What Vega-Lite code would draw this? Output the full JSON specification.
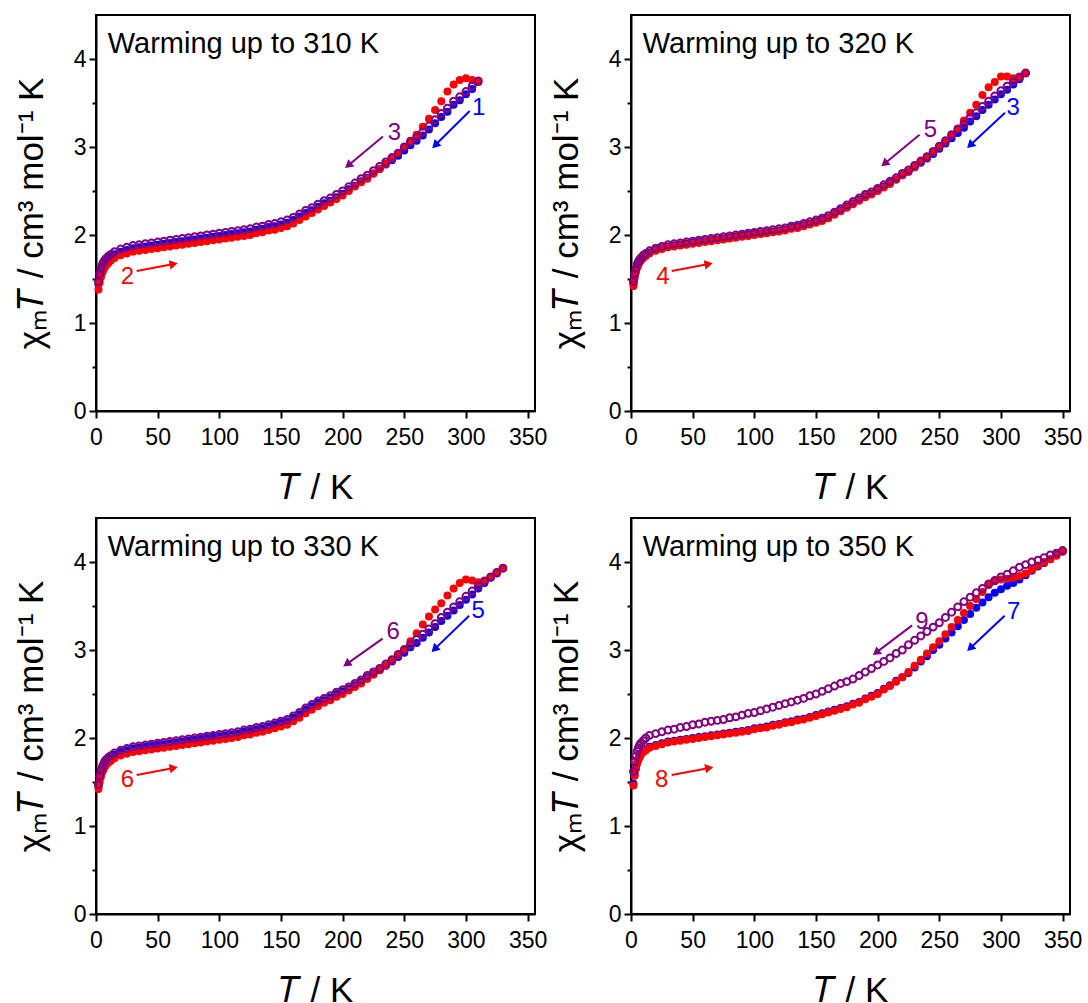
{
"$schema": "https://vega.github.io/schema/vega-lite/v6.json",
"padding": {"left": 13, "top": 14, "right": 5, "bottom": 5},
"background": "white",
"datasets": {"d": [
{"P":"310","T":2,"b":1.44,"r":1.38,"p":1.47},{"P":"310","T":3,"b":1.53,"r":1.46,"p":1.56},{"P":"310","T":4,"b":1.59,"r":1.52,"p":1.62},{"P":"310","T":5,"b":1.63,"r":1.57,"p":1.66},{"P":"310","T":6,"b":1.66,"r":1.60,"p":1.69},{"P":"310","T":7,"b":1.68,"r":1.63,"p":1.71},{"P":"310","T":8,"b":1.70,"r":1.65,"p":1.73},{"P":"310","T":10,"b":1.73,"r":1.68,"p":1.76},{"P":"310","T":12,"b":1.75,"r":1.71,"p":1.78},{"P":"310","T":15,"b":1.78,"r":1.74,"p":1.81},{"P":"310","T":20,"b":1.81,"r":1.77,"p":1.84},{"P":"310","T":25,"b":1.83,"r":1.79,"p":1.86},{"P":"310","T":30,"b":1.85,"r":1.81,"p":1.88},{"P":"310","T":35,"b":1.86,"r":1.82,"p":1.89},{"P":"310","T":40,"b":1.87,"r":1.83,"p":1.90},{"P":"310","T":45,"b":1.88,"r":1.84,"p":1.91},{"P":"310","T":50,"b":1.89,"r":1.85,"p":1.92},{"P":"310","T":55,"b":1.90,"r":1.86,"p":1.93},{"P":"310","T":60,"b":1.91,"r":1.87,"p":1.94},{"P":"310","T":65,"b":1.92,"r":1.88,"p":1.95},{"P":"310","T":70,"b":1.93,"r":1.89,"p":1.96},{"P":"310","T":75,"b":1.94,"r":1.90,"p":1.97},{"P":"310","T":80,"b":1.95,"r":1.91,"p":1.98},{"P":"310","T":85,"b":1.96,"r":1.92,"p":1.99},{"P":"310","T":90,"b":1.97,"r":1.93,"p":2.00},{"P":"310","T":95,"b":1.98,"r":1.94,"p":2.01},{"P":"310","T":100,"b":1.99,"r":1.95,"p":2.02},{"P":"310","T":105,"b":2.00,"r":1.96,"p":2.03},{"P":"310","T":110,"b":2.01,"r":1.97,"p":2.04},{"P":"310","T":115,"b":2.02,"r":1.98,"p":2.05},{"P":"310","T":120,"b":2.03,"r":1.99,"p":2.06},{"P":"310","T":125,"b":2.04,"r":2.00,"p":2.07},{"P":"310","T":130,"b":2.06,"r":2.02,"p":2.09},{"P":"310","T":135,"b":2.07,"r":2.03,"p":2.10},{"P":"310","T":140,"b":2.09,"r":2.05,"p":2.12},{"P":"310","T":145,"b":2.10,"r":2.06,"p":2.13},{"P":"310","T":150,"b":2.12,"r":2.08,"p":2.15},{"P":"310","T":155,"b":2.14,"r":2.10,"p":2.17},{"P":"310","T":160,"b":2.17,"r":2.13,"p":2.20},{"P":"310","T":165,"b":2.21,"r":2.17,"p":2.24},{"P":"310","T":170,"b":2.25,"r":2.21,"p":2.28},{"P":"310","T":175,"b":2.28,"r":2.25,"p":2.31},{"P":"310","T":180,"b":2.32,"r":2.29,"p":2.35},{"P":"310","T":185,"b":2.36,"r":2.33,"p":2.39},{"P":"310","T":190,"b":2.39,"r":2.37,"p":2.42},{"P":"310","T":195,"b":2.43,"r":2.41,"p":2.46},{"P":"310","T":200,"b":2.47,"r":2.45,"p":2.50},{"P":"310","T":205,"b":2.52,"r":2.50,"p":2.55},{"P":"310","T":210,"b":2.56,"r":2.55,"p":2.59},{"P":"310","T":215,"b":2.61,"r":2.60,"p":2.64},{"P":"310","T":220,"b":2.65,"r":2.64,"p":2.68},{"P":"310","T":225,"b":2.70,"r":2.70,"p":2.73},{"P":"310","T":230,"b":2.75,"r":2.75,"p":2.78},{"P":"310","T":235,"b":2.80,"r":2.81,"p":2.83},{"P":"310","T":240,"b":2.85,"r":2.87,"p":2.88},{"P":"310","T":245,"b":2.90,"r":2.93,"p":2.93},{"P":"310","T":250,"b":2.96,"r":3.00,"p":3.00},{"P":"310","T":255,"b":3.02,"r":3.07,"p":3.06},{"P":"310","T":260,"b":3.07,"r":3.14,"p":3.11},{"P":"310","T":265,"b":3.13,"r":3.23,"p":3.17},{"P":"310","T":270,"b":3.20,"r":3.32,"p":3.24},{"P":"310","T":275,"b":3.27,"r":3.42,"p":3.31},{"P":"310","T":280,"b":3.34,"r":3.52,"p":3.38},{"P":"310","T":285,"b":3.40,"r":3.63,"p":3.44},{"P":"310","T":290,"b":3.48,"r":3.71,"p":3.52},{"P":"310","T":295,"b":3.53,"r":3.76,"p":3.57},{"P":"310","T":300,"b":3.60,"r":3.78,"p":3.63},{"P":"310","T":305,"b":3.66,"r":3.76,"p":3.69},{"P":"310","T":310,"b":3.74,"r":3.74,"p":3.75},
{"P":"320","T":2,"b":1.45,"r":1.42,"p":1.47},{"P":"320","T":3,"b":1.54,"r":1.51,"p":1.56},{"P":"320","T":4,"b":1.60,"r":1.58,"p":1.62},{"P":"320","T":5,"b":1.65,"r":1.63,"p":1.67},{"P":"320","T":6,"b":1.68,"r":1.66,"p":1.70},{"P":"320","T":7,"b":1.70,"r":1.69,"p":1.72},{"P":"320","T":8,"b":1.72,"r":1.71,"p":1.74},{"P":"320","T":10,"b":1.75,"r":1.74,"p":1.77},{"P":"320","T":12,"b":1.77,"r":1.76,"p":1.79},{"P":"320","T":15,"b":1.80,"r":1.79,"p":1.82},{"P":"320","T":20,"b":1.83,"r":1.82,"p":1.85},{"P":"320","T":25,"b":1.85,"r":1.84,"p":1.87},{"P":"320","T":30,"b":1.87,"r":1.86,"p":1.89},{"P":"320","T":35,"b":1.88,"r":1.87,"p":1.90},{"P":"320","T":40,"b":1.89,"r":1.88,"p":1.91},{"P":"320","T":45,"b":1.90,"r":1.89,"p":1.92},{"P":"320","T":50,"b":1.91,"r":1.90,"p":1.93},{"P":"320","T":55,"b":1.92,"r":1.91,"p":1.94},{"P":"320","T":60,"b":1.93,"r":1.92,"p":1.95},{"P":"320","T":65,"b":1.94,"r":1.93,"p":1.96},{"P":"320","T":70,"b":1.95,"r":1.94,"p":1.97},{"P":"320","T":75,"b":1.96,"r":1.95,"p":1.98},{"P":"320","T":80,"b":1.97,"r":1.96,"p":1.99},{"P":"320","T":85,"b":1.98,"r":1.97,"p":2.00},{"P":"320","T":90,"b":1.99,"r":1.98,"p":2.01},{"P":"320","T":95,"b":2.00,"r":1.99,"p":2.02},{"P":"320","T":100,"b":2.01,"r":2.00,"p":2.03},{"P":"320","T":105,"b":2.02,"r":2.01,"p":2.04},{"P":"320","T":110,"b":2.03,"r":2.02,"p":2.05},{"P":"320","T":115,"b":2.04,"r":2.03,"p":2.06},{"P":"320","T":120,"b":2.05,"r":2.04,"p":2.07},{"P":"320","T":125,"b":2.06,"r":2.05,"p":2.08},{"P":"320","T":130,"b":2.08,"r":2.07,"p":2.10},{"P":"320","T":135,"b":2.09,"r":2.08,"p":2.11},{"P":"320","T":140,"b":2.11,"r":2.10,"p":2.13},{"P":"320","T":145,"b":2.13,"r":2.12,"p":2.15},{"P":"320","T":150,"b":2.15,"r":2.14,"p":2.17},{"P":"320","T":155,"b":2.17,"r":2.16,"p":2.19},{"P":"320","T":160,"b":2.20,"r":2.19,"p":2.22},{"P":"320","T":165,"b":2.24,"r":2.23,"p":2.26},{"P":"320","T":170,"b":2.28,"r":2.27,"p":2.30},{"P":"320","T":175,"b":2.32,"r":2.31,"p":2.34},{"P":"320","T":180,"b":2.36,"r":2.35,"p":2.38},{"P":"320","T":185,"b":2.40,"r":2.39,"p":2.42},{"P":"320","T":190,"b":2.44,"r":2.43,"p":2.46},{"P":"320","T":195,"b":2.47,"r":2.46,"p":2.49},{"P":"320","T":200,"b":2.51,"r":2.50,"p":2.53},{"P":"320","T":205,"b":2.55,"r":2.54,"p":2.57},{"P":"320","T":210,"b":2.59,"r":2.58,"p":2.61},{"P":"320","T":215,"b":2.63,"r":2.63,"p":2.65},{"P":"320","T":220,"b":2.68,"r":2.68,"p":2.70},{"P":"320","T":225,"b":2.72,"r":2.72,"p":2.74},{"P":"320","T":230,"b":2.77,"r":2.77,"p":2.79},{"P":"320","T":235,"b":2.82,"r":2.83,"p":2.84},{"P":"320","T":240,"b":2.87,"r":2.88,"p":2.89},{"P":"320","T":245,"b":2.92,"r":2.94,"p":2.95},{"P":"320","T":250,"b":2.98,"r":3.00,"p":3.01},{"P":"320","T":255,"b":3.04,"r":3.06,"p":3.07},{"P":"320","T":260,"b":3.10,"r":3.13,"p":3.14},{"P":"320","T":265,"b":3.16,"r":3.21,"p":3.20},{"P":"320","T":270,"b":3.22,"r":3.30,"p":3.26},{"P":"320","T":275,"b":3.29,"r":3.39,"p":3.33},{"P":"320","T":280,"b":3.35,"r":3.48,"p":3.39},{"P":"320","T":285,"b":3.42,"r":3.59,"p":3.46},{"P":"320","T":290,"b":3.48,"r":3.68,"p":3.52},{"P":"320","T":295,"b":3.54,"r":3.74,"p":3.58},{"P":"320","T":300,"b":3.60,"r":3.80,"p":3.64},{"P":"320","T":305,"b":3.65,"r":3.80,"p":3.69},{"P":"320","T":310,"b":3.71,"r":3.78,"p":3.74},{"P":"320","T":315,"b":3.77,"r":3.80,"p":3.79},{"P":"320","T":320,"b":3.84,"r":3.84,"p":3.84},
{"P":"330","T":2,"b":1.45,"r":1.42,"p":1.47},{"P":"330","T":3,"b":1.54,"r":1.50,"p":1.57},{"P":"330","T":4,"b":1.60,"r":1.56,"p":1.63},{"P":"330","T":5,"b":1.65,"r":1.61,"p":1.67},{"P":"330","T":6,"b":1.68,"r":1.64,"p":1.70},{"P":"330","T":7,"b":1.71,"r":1.67,"p":1.73},{"P":"330","T":8,"b":1.73,"r":1.69,"p":1.75},{"P":"330","T":10,"b":1.76,"r":1.72,"p":1.78},{"P":"330","T":12,"b":1.78,"r":1.74,"p":1.80},{"P":"330","T":15,"b":1.81,"r":1.77,"p":1.83},{"P":"330","T":20,"b":1.84,"r":1.80,"p":1.86},{"P":"330","T":25,"b":1.86,"r":1.82,"p":1.88},{"P":"330","T":30,"b":1.88,"r":1.84,"p":1.90},{"P":"330","T":35,"b":1.89,"r":1.85,"p":1.91},{"P":"330","T":40,"b":1.90,"r":1.86,"p":1.92},{"P":"330","T":45,"b":1.91,"r":1.87,"p":1.93},{"P":"330","T":50,"b":1.92,"r":1.88,"p":1.94},{"P":"330","T":55,"b":1.93,"r":1.89,"p":1.95},{"P":"330","T":60,"b":1.94,"r":1.90,"p":1.96},{"P":"330","T":65,"b":1.95,"r":1.91,"p":1.97},{"P":"330","T":70,"b":1.96,"r":1.92,"p":1.98},{"P":"330","T":75,"b":1.97,"r":1.93,"p":1.99},{"P":"330","T":80,"b":1.98,"r":1.94,"p":2.00},{"P":"330","T":85,"b":1.99,"r":1.95,"p":2.01},{"P":"330","T":90,"b":2.00,"r":1.96,"p":2.02},{"P":"330","T":95,"b":2.01,"r":1.97,"p":2.03},{"P":"330","T":100,"b":2.02,"r":1.98,"p":2.04},{"P":"330","T":105,"b":2.03,"r":1.99,"p":2.05},{"P":"330","T":110,"b":2.04,"r":2.00,"p":2.06},{"P":"330","T":115,"b":2.05,"r":2.01,"p":2.07},{"P":"330","T":120,"b":2.07,"r":2.03,"p":2.09},{"P":"330","T":125,"b":2.08,"r":2.04,"p":2.10},{"P":"330","T":130,"b":2.10,"r":2.06,"p":2.12},{"P":"330","T":135,"b":2.11,"r":2.07,"p":2.13},{"P":"330","T":140,"b":2.13,"r":2.09,"p":2.15},{"P":"330","T":145,"b":2.15,"r":2.11,"p":2.17},{"P":"330","T":150,"b":2.17,"r":2.13,"p":2.19},{"P":"330","T":155,"b":2.19,"r":2.15,"p":2.21},{"P":"330","T":160,"b":2.23,"r":2.19,"p":2.25},{"P":"330","T":165,"b":2.27,"r":2.23,"p":2.29},{"P":"330","T":170,"b":2.32,"r":2.28,"p":2.34},{"P":"330","T":175,"b":2.36,"r":2.32,"p":2.38},{"P":"330","T":180,"b":2.40,"r":2.36,"p":2.42},{"P":"330","T":185,"b":2.43,"r":2.40,"p":2.45},{"P":"330","T":190,"b":2.46,"r":2.43,"p":2.48},{"P":"330","T":195,"b":2.50,"r":2.47,"p":2.52},{"P":"330","T":200,"b":2.53,"r":2.50,"p":2.55},{"P":"330","T":205,"b":2.56,"r":2.54,"p":2.58},{"P":"330","T":210,"b":2.60,"r":2.58,"p":2.62},{"P":"330","T":215,"b":2.64,"r":2.62,"p":2.66},{"P":"330","T":220,"b":2.69,"r":2.67,"p":2.71},{"P":"330","T":225,"b":2.73,"r":2.72,"p":2.75},{"P":"330","T":230,"b":2.77,"r":2.77,"p":2.79},{"P":"330","T":235,"b":2.82,"r":2.82,"p":2.84},{"P":"330","T":240,"b":2.87,"r":2.88,"p":2.89},{"P":"330","T":245,"b":2.92,"r":2.94,"p":2.95},{"P":"330","T":250,"b":2.97,"r":3.01,"p":3.00},{"P":"330","T":255,"b":3.03,"r":3.10,"p":3.06},{"P":"330","T":260,"b":3.08,"r":3.19,"p":3.12},{"P":"330","T":265,"b":3.14,"r":3.29,"p":3.18},{"P":"330","T":270,"b":3.20,"r":3.38,"p":3.24},{"P":"330","T":275,"b":3.26,"r":3.46,"p":3.30},{"P":"330","T":280,"b":3.33,"r":3.53,"p":3.37},{"P":"330","T":285,"b":3.39,"r":3.62,"p":3.43},{"P":"330","T":290,"b":3.45,"r":3.70,"p":3.49},{"P":"330","T":295,"b":3.51,"r":3.76,"p":3.55},{"P":"330","T":300,"b":3.57,"r":3.80,"p":3.61},{"P":"330","T":305,"b":3.63,"r":3.79,"p":3.67},{"P":"330","T":310,"b":3.70,"r":3.77,"p":3.73},{"P":"330","T":315,"b":3.76,"r":3.79,"p":3.78},{"P":"330","T":320,"b":3.82,"r":3.83,"p":3.83},{"P":"330","T":325,"b":3.87,"r":3.88,"p":3.88},{"P":"330","T":330,"b":3.93,"r":3.93,"p":3.93},
{"P":"350","T":2,"b":1.48,"r":1.46,"p":1.62},{"P":"350","T":3,"b":1.59,"r":1.57,"p":1.73},{"P":"350","T":4,"b":1.66,"r":1.65,"p":1.80},{"P":"350","T":5,"b":1.72,"r":1.71,"p":1.85},{"P":"350","T":6,"b":1.76,"r":1.75,"p":1.89},{"P":"350","T":7,"b":1.79,"r":1.78,"p":1.92},{"P":"350","T":8,"b":1.82,"r":1.81,"p":1.94},{"P":"350","T":10,"b":1.85,"r":1.84,"p":1.97},{"P":"350","T":12,"b":1.87,"r":1.86,"p":2.00},{"P":"350","T":15,"b":1.90,"r":1.89,"p":2.03},{"P":"350","T":20,"b":1.92,"r":1.91,"p":2.05},{"P":"350","T":25,"b":1.94,"r":1.93,"p":2.07},{"P":"350","T":30,"b":1.96,"r":1.95,"p":2.09},{"P":"350","T":35,"b":1.97,"r":1.96,"p":2.10},{"P":"350","T":40,"b":1.98,"r":1.97,"p":2.12},{"P":"350","T":45,"b":1.99,"r":1.98,"p":2.13},{"P":"350","T":50,"b":2.00,"r":1.99,"p":2.15},{"P":"350","T":55,"b":2.01,"r":2.00,"p":2.16},{"P":"350","T":60,"b":2.02,"r":2.01,"p":2.18},{"P":"350","T":65,"b":2.03,"r":2.02,"p":2.19},{"P":"350","T":70,"b":2.04,"r":2.03,"p":2.20},{"P":"350","T":75,"b":2.05,"r":2.04,"p":2.21},{"P":"350","T":80,"b":2.06,"r":2.05,"p":2.23},{"P":"350","T":85,"b":2.07,"r":2.06,"p":2.24},{"P":"350","T":90,"b":2.08,"r":2.07,"p":2.26},{"P":"350","T":95,"b":2.09,"r":2.08,"p":2.28},{"P":"350","T":100,"b":2.11,"r":2.10,"p":2.29},{"P":"350","T":105,"b":2.12,"r":2.11,"p":2.31},{"P":"350","T":110,"b":2.13,"r":2.12,"p":2.33},{"P":"350","T":115,"b":2.15,"r":2.14,"p":2.35},{"P":"350","T":120,"b":2.16,"r":2.15,"p":2.37},{"P":"350","T":125,"b":2.18,"r":2.17,"p":2.39},{"P":"350","T":130,"b":2.19,"r":2.18,"p":2.41},{"P":"350","T":135,"b":2.21,"r":2.20,"p":2.43},{"P":"350","T":140,"b":2.22,"r":2.21,"p":2.45},{"P":"350","T":145,"b":2.24,"r":2.23,"p":2.48},{"P":"350","T":150,"b":2.26,"r":2.25,"p":2.50},{"P":"350","T":155,"b":2.28,"r":2.27,"p":2.53},{"P":"350","T":160,"b":2.30,"r":2.29,"p":2.56},{"P":"350","T":165,"b":2.32,"r":2.31,"p":2.59},{"P":"350","T":170,"b":2.34,"r":2.33,"p":2.62},{"P":"350","T":175,"b":2.36,"r":2.35,"p":2.64},{"P":"350","T":180,"b":2.39,"r":2.38,"p":2.67},{"P":"350","T":185,"b":2.41,"r":2.40,"p":2.71},{"P":"350","T":190,"b":2.45,"r":2.44,"p":2.75},{"P":"350","T":195,"b":2.48,"r":2.47,"p":2.79},{"P":"350","T":200,"b":2.51,"r":2.50,"p":2.83},{"P":"350","T":205,"b":2.56,"r":2.55,"p":2.87},{"P":"350","T":210,"b":2.60,"r":2.59,"p":2.91},{"P":"350","T":215,"b":2.65,"r":2.64,"p":2.96},{"P":"350","T":220,"b":2.69,"r":2.69,"p":3.00},{"P":"350","T":225,"b":2.74,"r":2.75,"p":3.06},{"P":"350","T":230,"b":2.80,"r":2.82,"p":3.11},{"P":"350","T":235,"b":2.87,"r":2.89,"p":3.16},{"P":"350","T":240,"b":2.93,"r":2.96,"p":3.21},{"P":"350","T":245,"b":3.00,"r":3.03,"p":3.26},{"P":"350","T":250,"b":3.06,"r":3.10,"p":3.31},{"P":"350","T":255,"b":3.13,"r":3.18,"p":3.37},{"P":"350","T":260,"b":3.20,"r":3.26,"p":3.43},{"P":"350","T":265,"b":3.27,"r":3.34,"p":3.49},{"P":"350","T":270,"b":3.34,"r":3.42,"p":3.55},{"P":"350","T":275,"b":3.41,"r":3.50,"p":3.60},{"P":"350","T":280,"b":3.48,"r":3.58,"p":3.65},{"P":"350","T":285,"b":3.54,"r":3.66,"p":3.70},{"P":"350","T":290,"b":3.60,"r":3.74,"p":3.75},{"P":"350","T":295,"b":3.65,"r":3.78,"p":3.79},{"P":"350","T":300,"b":3.69,"r":3.80,"p":3.83},{"P":"350","T":305,"b":3.73,"r":3.81,"p":3.86},{"P":"350","T":310,"b":3.76,"r":3.82,"p":3.90},{"P":"350","T":315,"b":3.80,"r":3.84,"p":3.94},{"P":"350","T":320,"b":3.85,"r":3.87,"p":3.97},{"P":"350","T":325,"b":3.90,"r":3.91,"p":4.00},{"P":"350","T":330,"b":3.95,"r":3.96,"p":4.02},{"P":"350","T":335,"b":3.99,"r":4.00,"p":4.05},{"P":"350","T":340,"b":4.03,"r":4.03,"p":4.08},{"P":"350","T":345,"b":4.08,"r":4.07,"p":4.10},{"P":"350","T":350,"b":4.12,"r":4.12,"p":4.13},
{"P":"310","k":"t","lab":"Warming up to 310 K"},{"P":"320","k":"t","lab":"Warming up to 320 K"},{"P":"330","k":"t","lab":"Warming up to 330 K"},{"P":"350","k":"t","lab":"Warming up to 350 K"},
{"P":"310","k":"n","s":"b","lab":"1","lx":310.4,"ly":3.44,"x":303,"y":3.41,"x2":275,"y2":3.02},
{"P":"310","k":"n","s":"p","lab":"3","lx":242,"ly":3.16,"x":232.7,"y":3.12,"x2":204.5,"y2":2.79},
{"P":"310","k":"n","s":"r","lab":"2","lx":25.4,"ly":1.52,"x":33,"y":1.59,"x2":63,"y2":1.67},
{"P":"320","k":"n","s":"b","lab":"3","lx":310,"ly":3.44,"x":303.3,"y":3.39,"x2":275,"y2":3.02},
{"P":"320","k":"n","s":"p","lab":"5","lx":242.8,"ly":3.19,"x":234,"y":3.14,"x2":205.5,"y2":2.81},
{"P":"320","k":"n","s":"r","lab":"4","lx":25.8,"ly":1.52,"x":33,"y":1.59,"x2":63,"y2":1.67},
{"P":"330","k":"n","s":"b","lab":"5","lx":309.9,"ly":3.44,"x":302.6,"y":3.39,"x2":274.5,"y2":3.01},
{"P":"330","k":"n","s":"p","lab":"6","lx":241,"ly":3.21,"x":232.4,"y":3.13,"x2":203.2,"y2":2.84},
{"P":"330","k":"n","s":"r","lab":"6","lx":25.4,"ly":1.52,"x":33,"y":1.58,"x2":63,"y2":1.66},
{"P":"350","k":"n","s":"p","lab":"9","lx":236,"ly":3.32,"x":228,"y":3.28,"x2":198.7,"y2":2.97},
{"P":"350","k":"n","s":"b","lab":"7","lx":310.4,"ly":3.43,"x":303,"y":3.39,"x2":275,"y2":3.02},
{"P":"350","k":"n","s":"r","lab":"8","lx":24.9,"ly":1.52,"x":33,"y":1.58,"x2":63.5,"y2":1.66}
]},
"bounds": "flush",
"columns": 2,
"spacing": {"row": 107, "column": 96},
"concat": [
  {"width": 439, "height": 396, "data": {"name": "d"}, "transform": [{"filter": "datum.P === '310'"}],
   "layer": [
    {"transform": [{"filter": "isValid(datum.b)"}], "mark": {"type": "circle", "size": 64, "color": "#0000ff", "opacity": 1},
     "encoding": {"x": {"field": "T", "type": "quantitative", "scale": {"domain": [0, 356], "nice": false, "zero": false},
        "axis": {"title": "𝑇 / K", "values": [0,25,50,75,100,125,150,175,200,225,250,275,300,325,350], "labelExpr": "datum.value % 50 === 0 ? format(datum.value, 'd') : ''", "tickSize": {"condition": {"test": "datum.value % 50 === 0", "value": 7}, "value": 4}, "labelPadding": 8, "titlePadding": 21, "labelFlush": false, "labelOverlap": false}},
      "y": {"field": "b", "type": "quantitative", "scale": {"domain": [0, 4.5], "nice": false, "zero": false},
        "axis": {"title": "χₘ𝑇 / cm³ mol⁻¹ K", "values": [0,0.5,1,1.5,2,2.5,3,3.5,4], "labelExpr": "datum.value % 1 === 0 ? format(datum.value, 'd') : ''", "tickSize": {"condition": {"test": "datum.value % 1 === 0", "value": 7}, "value": 4}, "labelPadding": 3, "titlePadding": 24, "labelFlush": false, "labelOverlap": false}}}},
    {"transform": [{"filter": "isValid(datum.r)"}], "mark": {"type": "circle", "size": 64, "color": "#ff0000", "opacity": 1},
     "encoding": {"x": {"field": "T", "type": "quantitative"}, "y": {"field": "r", "type": "quantitative"}}},
    {"transform": [{"filter": "isValid(datum.p)"}], "mark": {"type": "point", "shape": "circle", "filled": false, "size": 48, "strokeWidth": 2, "color": "#800080", "opacity": 1},
     "encoding": {"x": {"field": "T", "type": "quantitative"}, "y": {"field": "p", "type": "quantitative"}}},
    {"transform": [{"filter": "datum.k === 'n'"}], "mark": {"type": "rule", "strokeWidth": 2},
     "encoding": {"x": {"field": "x", "type": "quantitative"}, "y": {"field": "y", "type": "quantitative"}, "x2": {"field": "x2"}, "y2": {"field": "y2"},
      "color": {"field": "s", "type": "nominal", "scale": {"domain": ["b", "r", "p"], "range": ["#0000ff", "#ff0000", "#800080"]}, "legend": null}}},
    {"transform": [{"filter": "datum.k === 'n'"}, {"calculate": "atan2(-(datum.y2 - datum.y) * 88, (datum.x2 - datum.x) * 439 / 356) * 180 / PI", "as": "ang"}],
     "mark": {"type": "point", "shape": "triangle-right", "filled": true, "size": 90, "opacity": 1},
     "encoding": {"x": {"field": "x2", "type": "quantitative"}, "y": {"field": "y2", "type": "quantitative"}, "angle": {"field": "ang", "type": "quantitative", "scale": null},
      "color": {"field": "s", "type": "nominal", "scale": {"domain": ["b", "r", "p"], "range": ["#0000ff", "#ff0000", "#800080"]}, "legend": null}}},
    {"transform": [{"filter": "datum.k === 'n'"}], "mark": {"type": "text", "fontSize": 24, "align": "center", "baseline": "middle"},
     "encoding": {"x": {"field": "lx", "type": "quantitative"}, "y": {"field": "ly", "type": "quantitative"}, "text": {"field": "lab"},
      "color": {"field": "s", "type": "nominal", "scale": {"domain": ["b", "r", "p"], "range": ["#0000ff", "#ff0000", "#800080"]}, "legend": null}}},
    {"transform": [{"filter": "datum.k === 't'"}], "mark": {"type": "text", "fontSize": 29, "align": "left", "baseline": "middle", "color": "black"},
     "encoding": {"x": {"datum": 9.5, "type": "quantitative"}, "y": {"datum": 4.17, "type": "quantitative"}, "text": {"field": "lab"}}}
   ]},
  {"width": 439, "height": 396, "data": {"name": "d"}, "transform": [{"filter": "datum.P === '320'"}],
   "layer": [
    {"transform": [{"filter": "isValid(datum.b)"}], "mark": {"type": "circle", "size": 64, "color": "#0000ff", "opacity": 1},
     "encoding": {"x": {"field": "T", "type": "quantitative", "scale": {"domain": [0, 356], "nice": false, "zero": false},
        "axis": {"title": "𝑇 / K", "values": [0,25,50,75,100,125,150,175,200,225,250,275,300,325,350], "labelExpr": "datum.value % 50 === 0 ? format(datum.value, 'd') : ''", "tickSize": {"condition": {"test": "datum.value % 50 === 0", "value": 7}, "value": 4}, "labelPadding": 8, "titlePadding": 21, "labelFlush": false, "labelOverlap": false}},
      "y": {"field": "b", "type": "quantitative", "scale": {"domain": [0, 4.5], "nice": false, "zero": false},
        "axis": {"title": "χₘ𝑇 / cm³ mol⁻¹ K", "values": [0,0.5,1,1.5,2,2.5,3,3.5,4], "labelExpr": "datum.value % 1 === 0 ? format(datum.value, 'd') : ''", "tickSize": {"condition": {"test": "datum.value % 1 === 0", "value": 7}, "value": 4}, "labelPadding": 3, "titlePadding": 24, "labelFlush": false, "labelOverlap": false}}}},
    {"transform": [{"filter": "isValid(datum.r)"}], "mark": {"type": "circle", "size": 64, "color": "#ff0000", "opacity": 1},
     "encoding": {"x": {"field": "T", "type": "quantitative"}, "y": {"field": "r", "type": "quantitative"}}},
    {"transform": [{"filter": "isValid(datum.p)"}], "mark": {"type": "point", "shape": "circle", "filled": false, "size": 48, "strokeWidth": 2, "color": "#800080", "opacity": 1},
     "encoding": {"x": {"field": "T", "type": "quantitative"}, "y": {"field": "p", "type": "quantitative"}}},
    {"transform": [{"filter": "datum.k === 'n'"}], "mark": {"type": "rule", "strokeWidth": 2},
     "encoding": {"x": {"field": "x", "type": "quantitative"}, "y": {"field": "y", "type": "quantitative"}, "x2": {"field": "x2"}, "y2": {"field": "y2"},
      "color": {"field": "s", "type": "nominal", "scale": {"domain": ["b", "r", "p"], "range": ["#0000ff", "#ff0000", "#800080"]}, "legend": null}}},
    {"transform": [{"filter": "datum.k === 'n'"}, {"calculate": "atan2(-(datum.y2 - datum.y) * 88, (datum.x2 - datum.x) * 439 / 356) * 180 / PI", "as": "ang"}],
     "mark": {"type": "point", "shape": "triangle-right", "filled": true, "size": 90, "opacity": 1},
     "encoding": {"x": {"field": "x2", "type": "quantitative"}, "y": {"field": "y2", "type": "quantitative"}, "angle": {"field": "ang", "type": "quantitative", "scale": null},
      "color": {"field": "s", "type": "nominal", "scale": {"domain": ["b", "r", "p"], "range": ["#0000ff", "#ff0000", "#800080"]}, "legend": null}}},
    {"transform": [{"filter": "datum.k === 'n'"}], "mark": {"type": "text", "fontSize": 24, "align": "center", "baseline": "middle"},
     "encoding": {"x": {"field": "lx", "type": "quantitative"}, "y": {"field": "ly", "type": "quantitative"}, "text": {"field": "lab"},
      "color": {"field": "s", "type": "nominal", "scale": {"domain": ["b", "r", "p"], "range": ["#0000ff", "#ff0000", "#800080"]}, "legend": null}}},
    {"transform": [{"filter": "datum.k === 't'"}], "mark": {"type": "text", "fontSize": 29, "align": "left", "baseline": "middle", "color": "black"},
     "encoding": {"x": {"datum": 9.5, "type": "quantitative"}, "y": {"datum": 4.17, "type": "quantitative"}, "text": {"field": "lab"}}}
   ]},
  {"width": 439, "height": 396, "data": {"name": "d"}, "transform": [{"filter": "datum.P === '330'"}],
   "layer": [
    {"transform": [{"filter": "isValid(datum.b)"}], "mark": {"type": "circle", "size": 64, "color": "#0000ff", "opacity": 1},
     "encoding": {"x": {"field": "T", "type": "quantitative", "scale": {"domain": [0, 356], "nice": false, "zero": false},
        "axis": {"title": "𝑇 / K", "values": [0,25,50,75,100,125,150,175,200,225,250,275,300,325,350], "labelExpr": "datum.value % 50 === 0 ? format(datum.value, 'd') : ''", "tickSize": {"condition": {"test": "datum.value % 50 === 0", "value": 7}, "value": 4}, "labelPadding": 8, "titlePadding": 21, "labelFlush": false, "labelOverlap": false}},
      "y": {"field": "b", "type": "quantitative", "scale": {"domain": [0, 4.5], "nice": false, "zero": false},
        "axis": {"title": "χₘ𝑇 / cm³ mol⁻¹ K", "values": [0,0.5,1,1.5,2,2.5,3,3.5,4], "labelExpr": "datum.value % 1 === 0 ? format(datum.value, 'd') : ''", "tickSize": {"condition": {"test": "datum.value % 1 === 0", "value": 7}, "value": 4}, "labelPadding": 3, "titlePadding": 24, "labelFlush": false, "labelOverlap": false}}}},
    {"transform": [{"filter": "isValid(datum.r)"}], "mark": {"type": "circle", "size": 64, "color": "#ff0000", "opacity": 1},
     "encoding": {"x": {"field": "T", "type": "quantitative"}, "y": {"field": "r", "type": "quantitative"}}},
    {"transform": [{"filter": "isValid(datum.p)"}], "mark": {"type": "point", "shape": "circle", "filled": false, "size": 48, "strokeWidth": 2, "color": "#800080", "opacity": 1},
     "encoding": {"x": {"field": "T", "type": "quantitative"}, "y": {"field": "p", "type": "quantitative"}}},
    {"transform": [{"filter": "datum.k === 'n'"}], "mark": {"type": "rule", "strokeWidth": 2},
     "encoding": {"x": {"field": "x", "type": "quantitative"}, "y": {"field": "y", "type": "quantitative"}, "x2": {"field": "x2"}, "y2": {"field": "y2"},
      "color": {"field": "s", "type": "nominal", "scale": {"domain": ["b", "r", "p"], "range": ["#0000ff", "#ff0000", "#800080"]}, "legend": null}}},
    {"transform": [{"filter": "datum.k === 'n'"}, {"calculate": "atan2(-(datum.y2 - datum.y) * 88, (datum.x2 - datum.x) * 439 / 356) * 180 / PI", "as": "ang"}],
     "mark": {"type": "point", "shape": "triangle-right", "filled": true, "size": 90, "opacity": 1},
     "encoding": {"x": {"field": "x2", "type": "quantitative"}, "y": {"field": "y2", "type": "quantitative"}, "angle": {"field": "ang", "type": "quantitative", "scale": null},
      "color": {"field": "s", "type": "nominal", "scale": {"domain": ["b", "r", "p"], "range": ["#0000ff", "#ff0000", "#800080"]}, "legend": null}}},
    {"transform": [{"filter": "datum.k === 'n'"}], "mark": {"type": "text", "fontSize": 24, "align": "center", "baseline": "middle"},
     "encoding": {"x": {"field": "lx", "type": "quantitative"}, "y": {"field": "ly", "type": "quantitative"}, "text": {"field": "lab"},
      "color": {"field": "s", "type": "nominal", "scale": {"domain": ["b", "r", "p"], "range": ["#0000ff", "#ff0000", "#800080"]}, "legend": null}}},
    {"transform": [{"filter": "datum.k === 't'"}], "mark": {"type": "text", "fontSize": 29, "align": "left", "baseline": "middle", "color": "black"},
     "encoding": {"x": {"datum": 9.5, "type": "quantitative"}, "y": {"datum": 4.17, "type": "quantitative"}, "text": {"field": "lab"}}}
   ]},
  {"width": 439, "height": 396, "data": {"name": "d"}, "transform": [{"filter": "datum.P === '350'"}],
   "layer": [
    {"transform": [{"filter": "isValid(datum.b)"}], "mark": {"type": "circle", "size": 64, "color": "#0000ff", "opacity": 1},
     "encoding": {"x": {"field": "T", "type": "quantitative", "scale": {"domain": [0, 356], "nice": false, "zero": false},
        "axis": {"title": "𝑇 / K", "values": [0,25,50,75,100,125,150,175,200,225,250,275,300,325,350], "labelExpr": "datum.value % 50 === 0 ? format(datum.value, 'd') : ''", "tickSize": {"condition": {"test": "datum.value % 50 === 0", "value": 7}, "value": 4}, "labelPadding": 8, "titlePadding": 21, "labelFlush": false, "labelOverlap": false}},
      "y": {"field": "b", "type": "quantitative", "scale": {"domain": [0, 4.5], "nice": false, "zero": false},
        "axis": {"title": "χₘ𝑇 / cm³ mol⁻¹ K", "values": [0,0.5,1,1.5,2,2.5,3,3.5,4], "labelExpr": "datum.value % 1 === 0 ? format(datum.value, 'd') : ''", "tickSize": {"condition": {"test": "datum.value % 1 === 0", "value": 7}, "value": 4}, "labelPadding": 3, "titlePadding": 24, "labelFlush": false, "labelOverlap": false}}}},
    {"transform": [{"filter": "isValid(datum.r)"}], "mark": {"type": "circle", "size": 64, "color": "#ff0000", "opacity": 1},
     "encoding": {"x": {"field": "T", "type": "quantitative"}, "y": {"field": "r", "type": "quantitative"}}},
    {"transform": [{"filter": "isValid(datum.p)"}], "mark": {"type": "point", "shape": "circle", "filled": false, "size": 48, "strokeWidth": 2, "color": "#800080", "opacity": 1},
     "encoding": {"x": {"field": "T", "type": "quantitative"}, "y": {"field": "p", "type": "quantitative"}}},
    {"transform": [{"filter": "datum.k === 'n'"}], "mark": {"type": "rule", "strokeWidth": 2},
     "encoding": {"x": {"field": "x", "type": "quantitative"}, "y": {"field": "y", "type": "quantitative"}, "x2": {"field": "x2"}, "y2": {"field": "y2"},
      "color": {"field": "s", "type": "nominal", "scale": {"domain": ["b", "r", "p"], "range": ["#0000ff", "#ff0000", "#800080"]}, "legend": null}}},
    {"transform": [{"filter": "datum.k === 'n'"}, {"calculate": "atan2(-(datum.y2 - datum.y) * 88, (datum.x2 - datum.x) * 439 / 356) * 180 / PI", "as": "ang"}],
     "mark": {"type": "point", "shape": "triangle-right", "filled": true, "size": 90, "opacity": 1},
     "encoding": {"x": {"field": "x2", "type": "quantitative"}, "y": {"field": "y2", "type": "quantitative"}, "angle": {"field": "ang", "type": "quantitative", "scale": null},
      "color": {"field": "s", "type": "nominal", "scale": {"domain": ["b", "r", "p"], "range": ["#0000ff", "#ff0000", "#800080"]}, "legend": null}}},
    {"transform": [{"filter": "datum.k === 'n'"}], "mark": {"type": "text", "fontSize": 24, "align": "center", "baseline": "middle"},
     "encoding": {"x": {"field": "lx", "type": "quantitative"}, "y": {"field": "ly", "type": "quantitative"}, "text": {"field": "lab"},
      "color": {"field": "s", "type": "nominal", "scale": {"domain": ["b", "r", "p"], "range": ["#0000ff", "#ff0000", "#800080"]}, "legend": null}}},
    {"transform": [{"filter": "datum.k === 't'"}], "mark": {"type": "text", "fontSize": 29, "align": "left", "baseline": "middle", "color": "black"},
     "encoding": {"x": {"datum": 9.5, "type": "quantitative"}, "y": {"datum": 4.17, "type": "quantitative"}, "text": {"field": "lab"}}}
   ]}
],
"config": {
  "font": "Liberation Sans",
  "view": {"stroke": "black", "strokeWidth": 2},
  "axis": {"grid": false, "domainColor": "black", "domainWidth": 2, "tickColor": "black", "tickWidth": 2,
    "labelColor": "black", "titleColor": "black", "labelFont": "Liberation Sans", "titleFont": "Liberation Sans",
    "labelFontSize": 23, "titleFontSize": 35, "titleFontWeight": "normal"}
}
}
